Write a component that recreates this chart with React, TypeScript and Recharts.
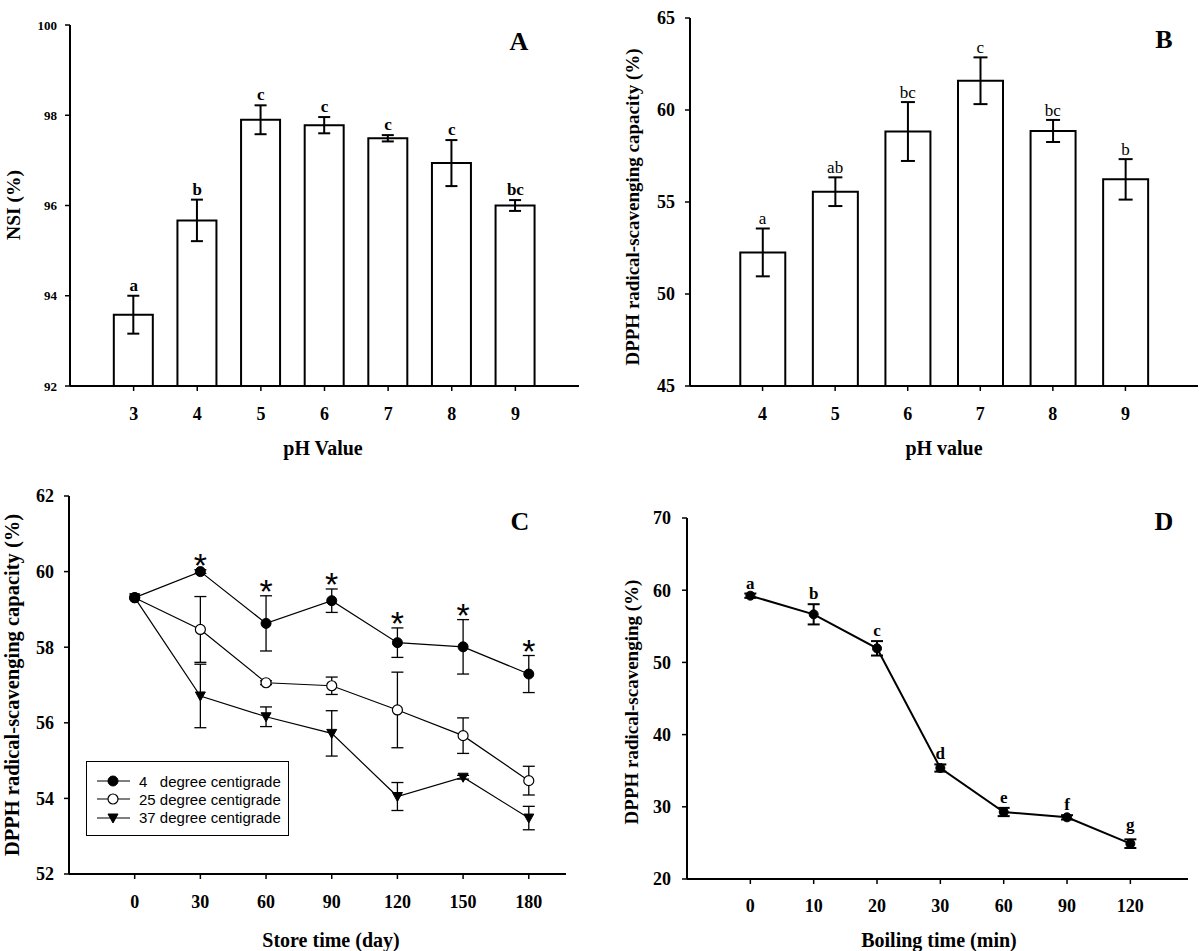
import React from "react";
import {
  ComposedChart,
  Bar,
  Line,
  XAxis,
  YAxis,
  ErrorBar,
  LabelList,
  Legend,
} from "recharts";

// A: NSI vs pH
const phA = [3, 4, 5, 6, 7, 8, 9];
const nsi = [93.58, 95.67, 97.9, 97.78, 97.49, 96.94, 96.0];
const nsiErr = [0.42, 0.46, 0.32, 0.18, 0.07, 0.51, 0.12];
const nsiTags = ["a", "b", "c", "c", "c", "c", "bc"];
const nsiTicks = [92, 94, 96, 98, 100];

// B: DPPH vs pH
const phB = [4, 5, 6, 7, 8, 9];
const dpphPh = [52.26, 55.56, 58.83, 61.59, 58.86, 56.23];
const dpphPhErr = [1.3, 0.78, 1.6, 1.27, 0.6, 1.1];
const dpphPhTags = ["a", "ab", "bc", "c", "bc", "b"];
const dpphPhTicks = [45, 50, 55, 60, 65];

// C: DPPH vs store time
const storeDays = [0, 30, 60, 90, 120, 150, 180];
const store4 = [59.31, 60.0, 58.63, 59.23, 58.12, 58.01, 57.29];
const store4Err = [0, 0.05, 0.73, 0.31, 0.39, 0.72, 0.49];
const store25 = [59.31, 58.47, 57.06, 56.98, 56.34, 55.66, 54.47];
const store25Err = [0, 0.87, 0.05, 0.23, 1.0, 0.47, 0.38];
const store37 = [59.31, 56.71, 56.16, 55.72, 54.05, 54.56, 53.48];
const store37Err = [0, 0.84, 0.26, 0.6, 0.37, 0.05, 0.31];
const storeMarks = ["", "*", "*", "*", "*", "*", "*"];
const storeNames = ["4   degree centigrade", "25 degree centigrade", "37 degree centigrade"];
const storeTicks = [52, 54, 56, 58, 60, 62];

// D: DPPH vs boiling time
const boilLabels = ["0", "10", "20", "30", "60", "90", "120"];
const boil = [59.24, 56.66, 51.95, 35.37, 29.28, 28.54, 24.89];
const boilErr = [0.3, 1.4, 1.0, 0.5, 0.57, 0.3, 0.6];
const boilTags = ["a", "b", "c", "d", "e", "f", "g"];
const boilTicks = [20, 30, 40, 50, 60, 70];

const dataA = phA.map((ph, i) => ({
  ph,
  v: nsi[i],
  e: nsiErr[i],
  top: nsi[i] + nsiErr[i],
  tag: nsiTags[i],
}));
const dataB = phB.map((ph, i) => ({
  ph,
  v: dpphPh[i],
  e: dpphPhErr[i],
  top: dpphPh[i] + dpphPhErr[i],
  tag: dpphPhTags[i],
}));
const dataC = storeDays.map((day, i) => ({
  day,
  a: store4[i],
  ae: store4Err[i],
  b: store25[i],
  be: store25Err[i],
  c: store37[i],
  ce: store37Err[i],
  star: store4[i] + store4Err[i],
  mark: storeMarks[i],
}));
const dataD = boilLabels.map((t, i) => ({
  idx: i,
  v: boil[i],
  e: boilErr[i],
  top: boil[i] + boilErr[i],
  tag: boilTags[i],
}));

const serif = "'Liberation Serif', 'Times New Roman', serif";
const sans = "'Liberation Sans', Arial, sans-serif";
const tickFont = { fontFamily: serif, fontWeight: 700, fontSize: 18, fill: "#000" };
const axisLine = { stroke: "#000", strokeWidth: 2 };
const tickLine = { stroke: "#000", strokeWidth: 1.5 };

const labelPos = (props: any) => {
  const vb = props.viewBox || {};
  const x = (vb.x ?? props.x) + (vb.width ?? 0) / 2;
  const y = vb.y ?? props.y;
  return { x, y };
};

const tagLabel = (gap: number, bold: boolean) => (props: any) => {
  if (!props.value) return null;
  const { x, y } = labelPos(props);
  // letters with a descender sit a little higher
  const lift = /[gjpqy]/.test(String(props.value)) ? 4 : 0;
  return (
    <text
      x={x}
      y={y - gap - lift}
      textAnchor="middle"
      fontFamily={serif}
      fontWeight={bold ? 700 : 400}
      fontSize={17}
      fill="#000"
    >
      {props.value}
    </text>
  );
};

const starLabel = (props: any) => {
  if (!props.value) return null;
  const { x, y } = labelPos(props);
  return (
    <text x={x} y={y + 7} textAnchor="middle" fontFamily={sans} fontSize={34} fill="#000">
      {props.value}
    </text>
  );
};

const TriangleDot = (props: any) => {
  const { cx, cy } = props;
  if (cx == null || cy == null) return <g />;
  return (
    <polygon
      points={`${cx - 5},${cy - 4} ${cx + 5},${cy - 4} ${cx},${cy + 5}`}
      fill="#000"
      stroke="#000"
      strokeWidth={1}
    />
  );
};

const Title = ({ x, y, size = 20, rotate = false, children }: any) => (
  <div
    style={{
      position: "absolute",
      left: x,
      top: y,
      transform: `translate(-50%, -50%)${rotate ? " rotate(-90deg)" : ""}`,
      fontFamily: serif,
      fontWeight: 700,
      fontSize: size,
      lineHeight: 1,
      whiteSpace: "nowrap",
      color: "#000",
    }}
  >
    {children}
  </div>
);

const legendMarker = (i: number) => {
  if (i === 0) return <circle cx={16} cy={6} r={5} fill="#000" stroke="#000" />;
  if (i === 1) return <circle cx={16} cy={6} r={5} fill="#fff" stroke="#000" strokeWidth={1.2} />;
  return <polygon points="11,2 21,2 16,11" fill="#000" stroke="#000" />;
};

const storeLegend = () => (
  <div
    style={{
      border: "1px solid #000",
      background: "#fff",
      padding: "10px 0 0 10px",
      boxSizing: "border-box",
      width: 203,
      height: 75,
    }}
  >
    {storeNames.map((name, i) => (
      <div key={name} style={{ display: "flex", alignItems: "center", height: 18.3 }}>
        <svg width={33} height={12}>
          <line x1={0} y1={6} x2={33} y2={6} stroke="#000" strokeWidth={1.2} />
          {legendMarker(i)}
        </svg>
        <span style={{ marginLeft: 9, fontFamily: sans, fontSize: 15, whiteSpace: "pre", color: "#000" }}>
          {name}
        </span>
      </div>
    ))}
  </div>
);

const PanelA = () => (
  <ComposedChart width={600} height={470} data={dataA} margin={{ top: 25, right: 21, left: 10, bottom: 44 }}>
    <XAxis
      dataKey="ph"
      type="number"
      domain={[2, 10]}
      ticks={phA}
      height={40}
      tickSize={5}
      tickMargin={16}
      axisLine={axisLine}
      tickLine={tickLine}
      tick={tickFont}
      allowDataOverflow
    />
    <YAxis
      type="number"
      domain={[92, 100]}
      ticks={nsiTicks}
      width={60}
      tickSize={5}
      tickMargin={8}
      axisLine={axisLine}
      tickLine={tickLine}
      tick={{ ...tickFont, fontSize: 13 }}
      allowDataOverflow
    />
    <Bar dataKey="v" barSize={39} fill="#fff" stroke="#000" strokeWidth={2} isAnimationActive={false}>
      <ErrorBar dataKey="e" width={6} stroke="#000" strokeWidth={2} direction="y" />
    </Bar>
    <Line dataKey="top" stroke="none" dot={false} activeDot={false} isAnimationActive={false}>
      <LabelList dataKey="tag" content={tagLabel(5, true)} />
    </Line>
  </ComposedChart>
);

const PanelB = () => (
  <ComposedChart width={600} height={470} data={dataB} margin={{ top: 18, right: 2, left: 30, bottom: 44 }}>
    <XAxis
      dataKey="ph"
      type="number"
      domain={[3, 10]}
      ticks={phB}
      height={40}
      tickSize={5}
      tickMargin={16}
      axisLine={axisLine}
      tickLine={tickLine}
      tick={tickFont}
      allowDataOverflow
    />
    <YAxis
      type="number"
      domain={[45, 65]}
      ticks={dpphPhTicks}
      width={60}
      tickSize={5}
      tickMargin={10}
      axisLine={axisLine}
      tickLine={tickLine}
      tick={tickFont}
      allowDataOverflow
    />
    <Bar dataKey="v" barSize={45} fill="#fff" stroke="#000" strokeWidth={2} isAnimationActive={false}>
      <ErrorBar dataKey="e" width={7} stroke="#000" strokeWidth={2} direction="y" />
    </Bar>
    <Line dataKey="top" stroke="none" dot={false} activeDot={false} isAnimationActive={false}>
      <LabelList dataKey="tag" content={tagLabel(4, false)} />
    </Line>
  </ComposedChart>
);

const PanelC = () => (
  <ComposedChart width={600} height={481} data={dataC} margin={{ top: 26, right: 34, left: 9, bottom: 37 }}>
    <XAxis
      dataKey="day"
      type="number"
      domain={[-30, 197]}
      ticks={storeDays}
      height={40}
      tickSize={5}
      tickMargin={16}
      axisLine={axisLine}
      tickLine={tickLine}
      tick={tickFont}
      allowDataOverflow
    />
    <YAxis
      type="number"
      domain={[52, 62]}
      ticks={storeTicks}
      width={60}
      tickSize={5}
      tickMargin={10}
      axisLine={axisLine}
      tickLine={tickLine}
      tick={tickFont}
      allowDataOverflow
    />
    <Legend
      layout="vertical"
      align="center"
      verticalAlign="middle"
      wrapperStyle={{ left: 86, top: 291, width: 203, height: 75 }}
      content={storeLegend}
    />
    <Line
      dataKey="c"
      name={storeNames[2]}
      stroke="#000"
      strokeWidth={1.2}
      dot={<TriangleDot />}
      activeDot={false}
      isAnimationActive={false}
    >
      <ErrorBar dataKey="ce" width={6} stroke="#000" strokeWidth={1.3} direction="y" />
    </Line>
    <Line
      dataKey="b"
      name={storeNames[1]}
      stroke="#000"
      strokeWidth={1.2}
      dot={{ r: 5, fill: "#fff", stroke: "#000", strokeWidth: 1.2 }}
      activeDot={false}
      isAnimationActive={false}
    >
      <ErrorBar dataKey="be" width={6} stroke="#000" strokeWidth={1.3} direction="y" />
    </Line>
    <Line
      dataKey="a"
      name={storeNames[0]}
      stroke="#000"
      strokeWidth={1.2}
      dot={{ r: 5, fill: "#000", stroke: "#000", strokeWidth: 1 }}
      activeDot={false}
      isAnimationActive={false}
    >
      <ErrorBar dataKey="ae" width={6} stroke="#000" strokeWidth={1.3} direction="y" />
    </Line>
    <Line dataKey="star" stroke="none" dot={false} activeDot={false} legendType="none" isAnimationActive={false}>
      <LabelList dataKey="mark" content={starLabel} />
    </Line>
  </ComposedChart>
);

const PanelD = () => (
  <ComposedChart width={600} height={481} data={dataD} margin={{ top: 48, right: 12, left: 27, bottom: 32 }}>
    <XAxis
      dataKey="idx"
      type="number"
      domain={[-1, 6.91]}
      ticks={boilLabels.map((_, i) => i)}
      tickFormatter={(i: number) => boilLabels[i]}
      height={40}
      tickSize={5}
      tickMargin={15}
      axisLine={axisLine}
      tickLine={tickLine}
      tick={tickFont}
      allowDataOverflow
    />
    <YAxis
      type="number"
      domain={[20, 70]}
      ticks={boilTicks}
      width={60}
      tickSize={5}
      tickMargin={11}
      axisLine={axisLine}
      tickLine={tickLine}
      tick={tickFont}
      allowDataOverflow
    />
    <Line
      dataKey="v"
      stroke="#000"
      strokeWidth={2}
      dot={{ r: 4.5, fill: "#000", stroke: "#000", strokeWidth: 1 }}
      activeDot={false}
      isAnimationActive={false}
    >
      <ErrorBar dataKey="e" width={6} stroke="#000" strokeWidth={2} direction="y" />
    </Line>
    <Line dataKey="top" stroke="none" dot={false} activeDot={false} isAnimationActive={false}>
      <LabelList dataKey="tag" content={tagLabel(5, true)} />
    </Line>
  </ComposedChart>
);

export default function App() {
  return (
    <div style={{ position: "absolute", left: 0, top: 0, width: 1200, height: 951, background: "#fff" }}>
      <div style={{ position: "absolute", left: 0, top: 0 }}>
        <PanelA />
      </div>
      <div style={{ position: "absolute", left: 600, top: 0 }}>
        <PanelB />
      </div>
      <div style={{ position: "absolute", left: 0, top: 470 }}>
        <PanelC />
      </div>
      <div style={{ position: "absolute", left: 600, top: 470 }}>
        <PanelD />
      </div>

      <Title x={14} y={205} size={19.5} rotate>NSI (%)</Title>
      <Title x={323} y={448}>pH Value</Title>
      <Title x={519} y={42} size={26}>A</Title>

      <Title x={632} y={207} size={19} rotate>DPPH radical-scavenging capacity (%)</Title>
      <Title x={944} y={448}>pH value</Title>
      <Title x={1164} y={40} size={26}>B</Title>

      <Title x={12} y={685} size={20.5} rotate>DPPH radical-scavenging capacity (%)</Title>
      <Title x={331} y={940}>Store time (day)</Title>
      <Title x={520} y={522} size={26}>C</Title>

      <Title x={631} y={702} size={19} rotate>DPPH radical-scavenging (%)</Title>
      <Title x={939} y={940}>Boiling time (min)</Title>
      <Title x={1164} y={522} size={26}>D</Title>
    </div>
  );
}
